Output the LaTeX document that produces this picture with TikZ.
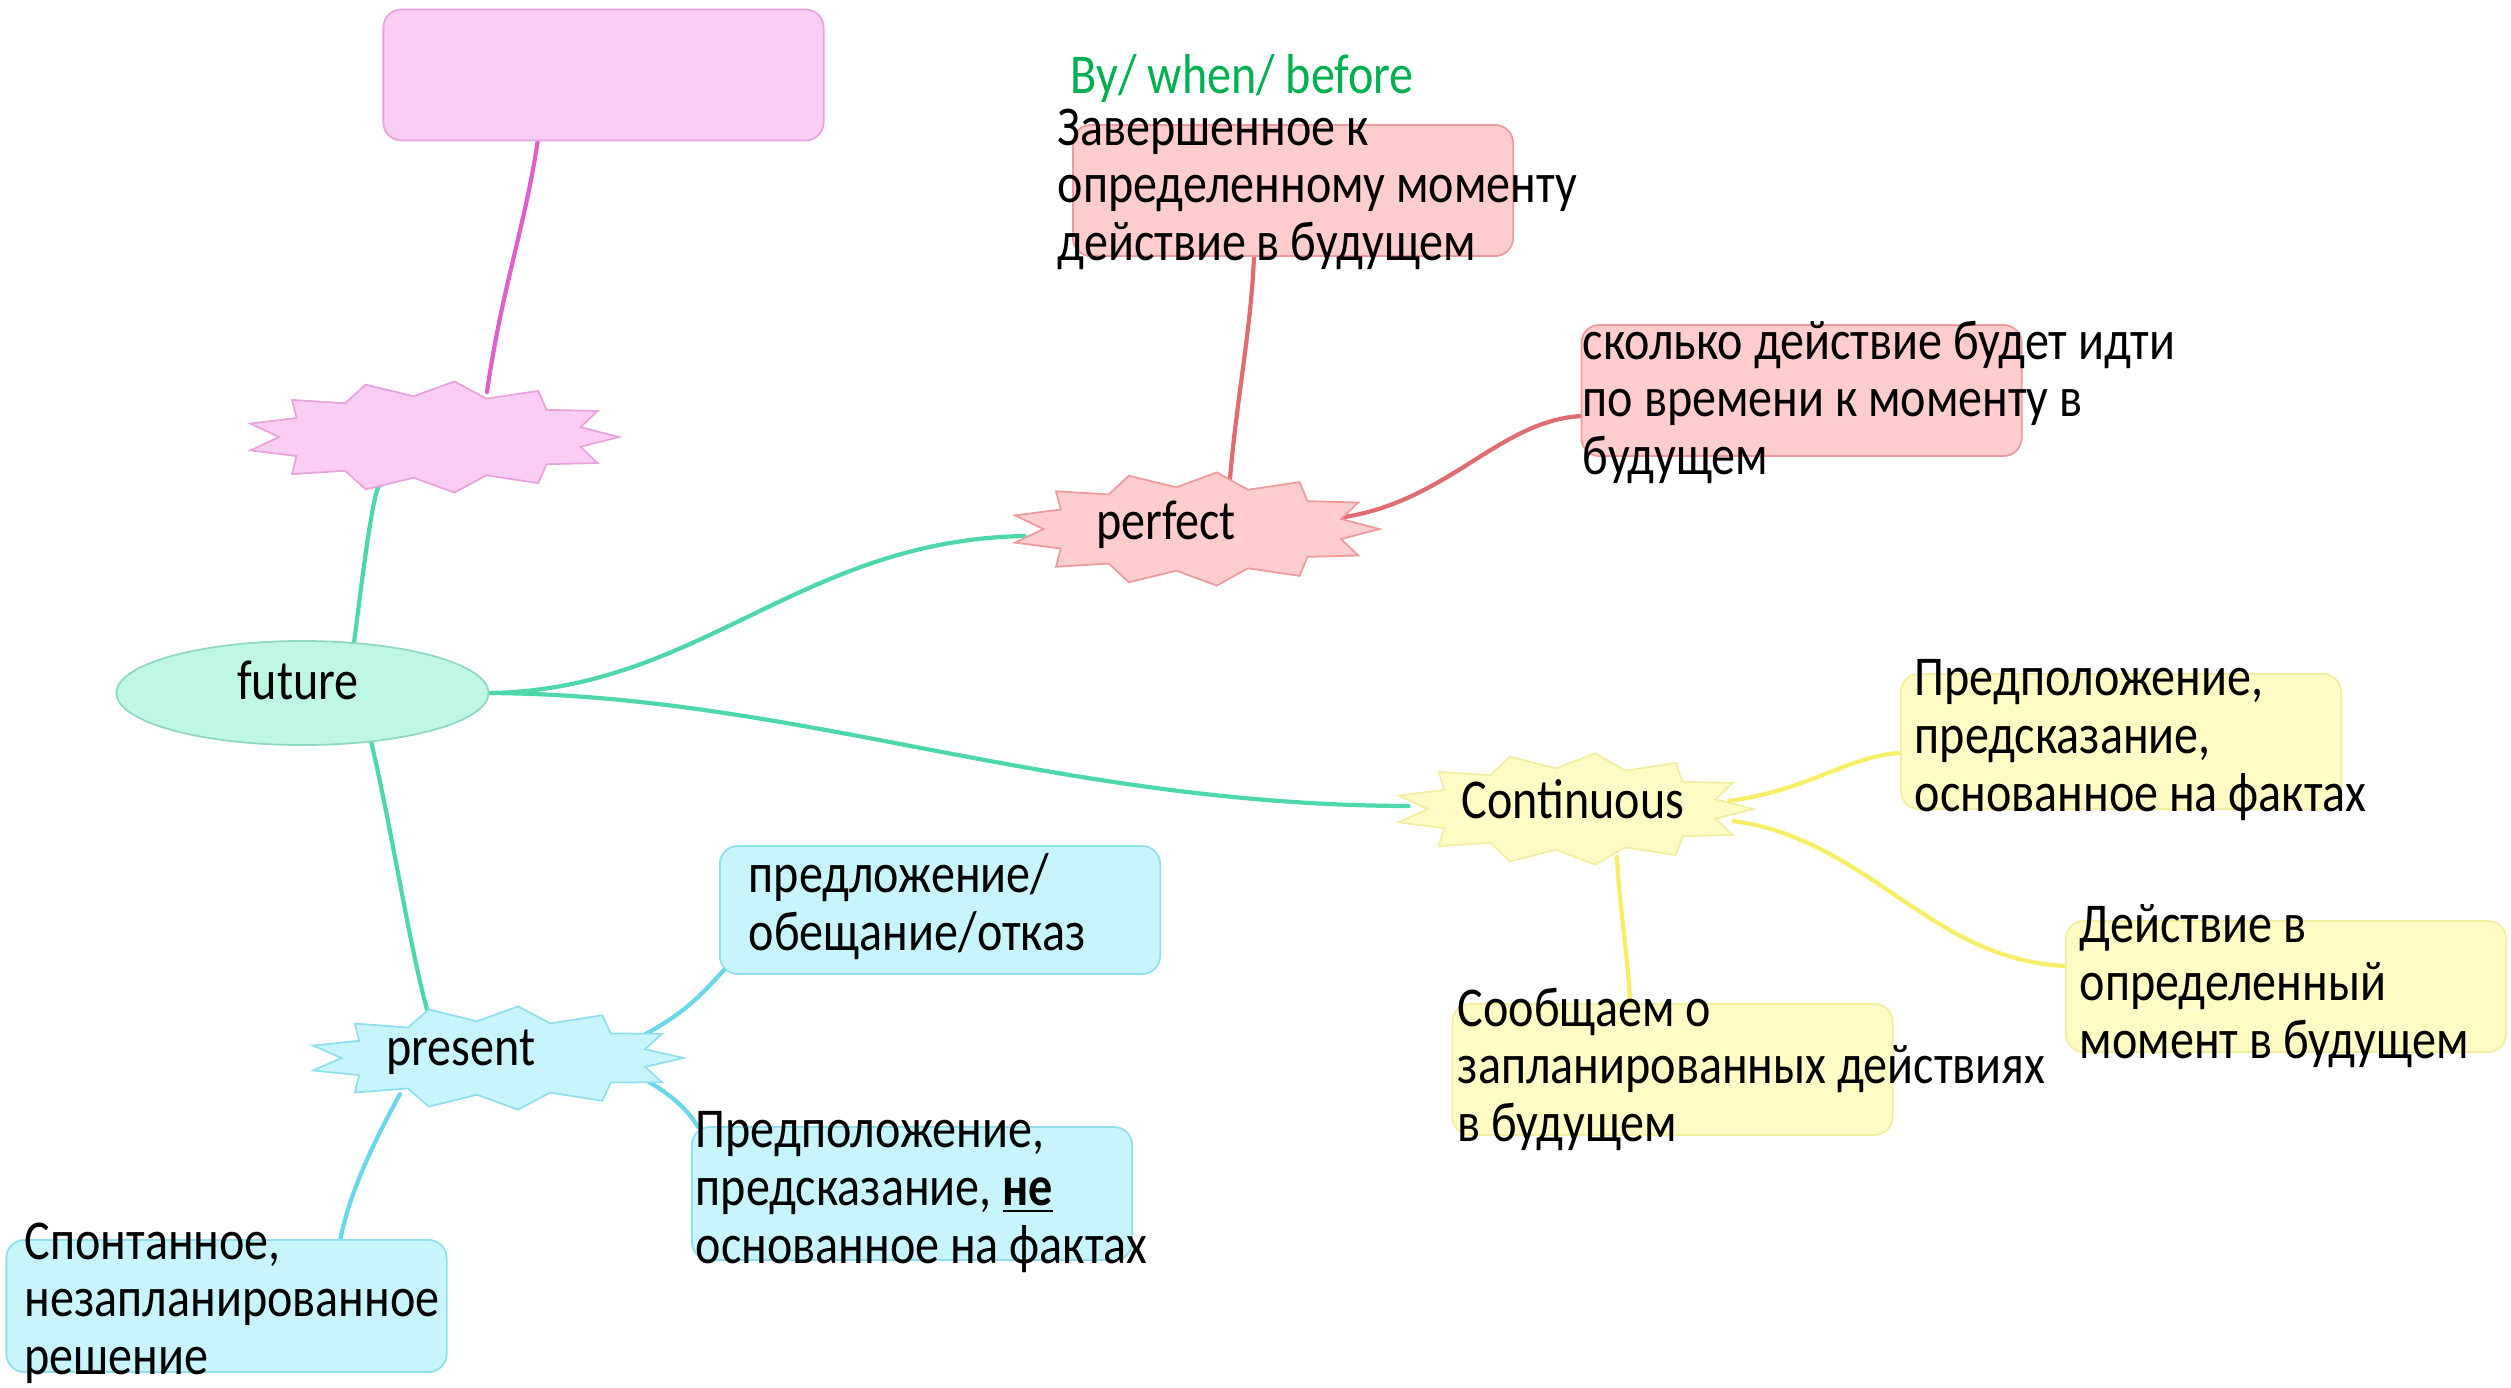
\documentclass[tikz,border=0pt]{standalone}
\usepackage{fontspec}
\setmainfont{Carlito}[FakeStretch=0.855]
\usetikzlibrary{shapes.geometric,calc,backgrounds}
\definecolor{pinkF}{HTML}{FCCDF3}
\definecolor{pinkD}{HTML}{E8A3DC}
\definecolor{pinkL}{HTML}{DF5FCB}
\definecolor{greenF}{HTML}{BEF7E4}
\definecolor{greenD}{HTML}{8FD9C0}
\definecolor{greenL}{HTML}{4ED8A9}
\definecolor{redF}{HTML}{FFCDCD}
\definecolor{redD}{HTML}{EE9A9E}
\definecolor{redL}{HTML}{E06B70}
\definecolor{yelF}{HTML}{FFFBC4}
\definecolor{yelD}{HTML}{F3EDA0}
\definecolor{yelL}{HTML}{F6EE66}
\definecolor{bluF}{HTML}{C8F5FC}
\definecolor{bluD}{HTML}{8FDFEC}
\definecolor{bluL}{HTML}{6AD7EB}
\definecolor{txtgreen}{HTML}{00B050}
% star outline around a named (invisible) ellipse node: name, a, b, fill, draw
\newcommand{\drawburst}[5]{%
  \draw[shift={(#1.center)}, fill=#4, draw=#5, line width=0.5pt, line join=miter]
    plot[samples at={0,...,25}, variable=\k]
    ({(#2-34*mod(\k,2))*cos(\k*360/26)}, {(#3-15*mod(\k,2))*sin(\k*360/26)}) -- cycle;}
\begin{document}
\begin{tikzpicture}[x=0.01cm,y=-0.01cm,
  box/.style={rectangle, rounded corners=0.18cm, minimum width=4.4cm, minimum height=1.31cm, line width=0.5pt, inner sep=0pt},
  hub/.style={ellipse, draw=none, inner sep=0pt},
  txt/.style={anchor=north west, inner sep=0pt, align=left, font=\fontsize{16}{16.4}\selectfont},
  lbl/.style={anchor=base, inner sep=0pt, font=\fontsize{16}{16.4}\selectfont},
  link/.style={line width=1.2pt, line cap=round}]
\useasboundingbox (0,0) rectangle (2511,1387);

% boxes
\node[box, fill=pinkF, draw=pinkD] (pinkbox) at (603.5,75) {};
\node[box, fill=redF, draw=redD] (redbox1) at (1293,190.5) {};
\node[box, fill=redF, draw=redD] (redbox2) at (1801.5,390.5) {};
\node[box, fill=yelF, draw=yelD, minimum height=1.35cm] (ybox1) at (2121,741.5) {};
\node[box, fill=yelF, draw=yelD] (ybox2) at (2286,986.5) {};
\node[box, fill=yelF, draw=yelD] (ybox3) at (1672.5,1069.5) {};
\node[box, fill=bluF, draw=bluD, minimum height=1.28cm] (bbox1) at (940,910) {};
\node[box, fill=bluF, draw=bluD, minimum height=1.33cm] (bbox2) at (912,1193.5) {};
\node[box, fill=bluF, draw=bluD, minimum height=1.32cm] (bbox3) at (226.5,1306) {};

% central nodes
\node[ellipse, fill=greenF, draw=greenD, line width=0.5pt, minimum width=3.72cm, minimum height=1.04cm, inner sep=0pt] (future) at (302.5,693) {};
\node[hub, minimum width=3.75cm, minimum height=1.12cm] (pinkstar) at (432,437) {};
\node[hub, minimum width=3.71cm, minimum height=1.14cm] (perfect) at (1194.5,529) {};
\node[hub, minimum width=3.61cm, minimum height=1.12cm] (cont) at (1573.5,809) {};
\node[hub, minimum width=3.77cm, minimum height=1.04cm] (present) at (495.5,1058) {};
\drawburst{pinkstar}{187}{56}{pinkF}{pinkD}
\drawburst{perfect}{185}{57}{redF}{redD}
\drawburst{cont}{180}{56}{yelF}{yelD}
\drawburst{present}{188}{52}{bluF}{bluD}

% connectors
\begin{scope}[on background layer]
\draw[link, pinkL] ($(pinkbox)+(-65.5,64)$) .. controls ($(pinkbox)+(-78,150)$) and ($(pinkstar)+(70,-150)$) .. ($(pinkstar)+(55,-45)$);
\draw[link, greenL] ($(future)+(51.5,-50)$) .. controls ($(future)+(58,-100)$) and ($(pinkstar)+(-58,40)$) .. ($(pinkstar)+(-51,48)$);
\draw[link, greenL] (future.east) .. controls (700,690) and (800,540) .. ($(perfect)+(-170,7)$);
\draw[link, greenL] (future.east) .. controls (800,695) and (1050,805) .. ($(cont)+(-165,-3)$);
\draw[link, greenL] ($(future)+(68.5,48)$) .. controls (392,830) and (410,950) .. ($(present)+(-67.5,-45)$);
\draw[link, redL] ($(perfect)+(35.5,-50)$) .. controls ($(perfect)+(42,-130)$) and ($(redbox1)+(-42,140)$) .. ($(redbox1)+(-39,65.5)$);
\draw[link, redL] ($(perfect)+(150,-12)$) .. controls (1450,500) and (1500,420) .. ($(redbox2)+(-219.5,25.5)$);
\draw[link, yelL] ($(cont)+(155,-8)$) .. controls (1810,790) and (1850,755) .. ($(ybox1)+(-220,11.5)$);
\draw[link, yelL] ($(cont)+(160,12)$) .. controls (1870,840) and (1930,960) .. ($(ybox2)+(-220,-20.5)$);
\draw[link, yelL] ($(cont)+(43.5,48)$) .. controls ($(cont)+(46,100)$) and ($(ybox3)+(-44,-110)$) .. ($(ybox3)+(-42.5,-65.5)$);
\draw[link, bluL] ($(present)+(150,-24)$) .. controls (690,1010) and (705,990) .. ($(bbox1)+(-215,59)$);
\draw[link, bluL] ($(present)+(150,22)$) .. controls (672,1095) and (688,1110) .. ($(bbox2)+(-214,-66.5)$);
\draw[link, bluL] ($(present)+(-95.5,36)$) .. controls (375,1140) and (350,1190) .. ($(bbox3)+(113.5,-65)$);
\end{scope}

% labels
\node[lbl] (futurelbl) at (298,699) {future};
\node[lbl] (perfectlbl) at (1166,539) {perfect};
\node[lbl] (contlbl) at (1573,818) {Continuous};
\node[lbl] (presentlbl) at (461,1065) {present};

\node[txt, text=txtgreen] (bywhen) at (1070,54) {By/ when/ before};
\node[txt] (tperf1) at (1057,108) {Завершенное к\\определенному моменту\\действие в будущем};
\node[txt] (tperf2) at (1582,320) {сколько действие будет идти\\по времени к моменту в\\будущем};
\node[txt] (tcont1) at (1914,659) {Предположение,\\предсказание,\\основанное на фактах};
\node[txt] (tcont2) at (2079,904) {Действие в\\определенный\\момент в будущем};
\node[txt] (tcont3) at (1457,987) {Сообщаем о\\запланированных действиях\\в будущем};
\node[txt] (tpres1) at (748,853) {предложение/\\обещание/отказ};
\node[txt] (tpres2) at (695,1111) {Предположение,\\предсказание, \underline{\textbf{не}}\\основанное на фактах};
\node[txt] (tpres3) at (24,1222) {Спонтанное,\\незапланированное\\решение};
\end{tikzpicture}
\end{document}
